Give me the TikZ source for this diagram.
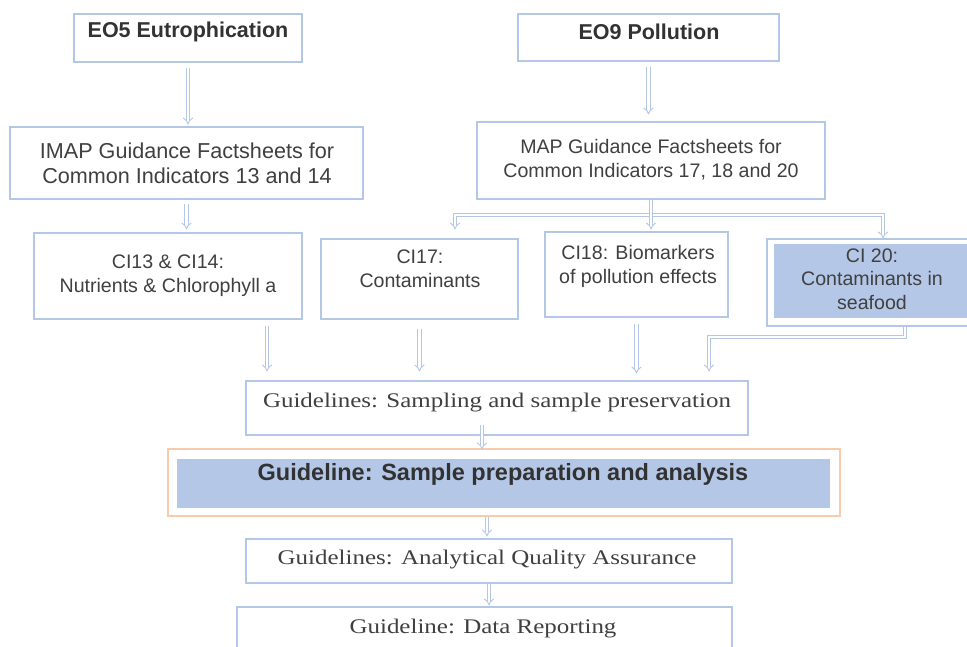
\documentclass[tikz,border=0pt]{standalone}
\usepackage{fontspec}
\setmainfont{Liberation Sans}
\newfontfamily\serifc[FakeStretch=1.2]{Liberation Serif}
\usetikzlibrary{arrows.meta}
\definecolor{boxc}{RGB}{180,199,231}
\definecolor{fillc}{RGB}{180,199,231}
\definecolor{orangec}{RGB}{248,203,173}
\definecolor{txtc}{RGB}{64,64,64}
\definecolor{titc}{RGB}{50,50,50}
\begin{document}
\begin{tikzpicture}[x=1pt,y=-1pt,
  box/.style={draw=boxc, line width=1.1pt, inner sep=0pt},
  fbox/.style={fill=fillc, draw=none, inner sep=0pt},
  obox/.style={draw=orangec, line width=1.1pt, inner sep=0pt},
  ttl/.style={text=titc, font=\fontsize{21.5}{25}\selectfont\bfseries, inner sep=0pt},
  bigt/.style={text=txtc, font=\fontsize{21.6}{25}\selectfont, align=center, inner sep=0pt},
  midt/.style={text=txtc, font=\fontsize{19.6}{24}\selectfont, align=center, inner sep=0pt},
  sert/.style={text=txtc, font=\serifc\fontsize{20.8}{24}\selectfont, inner sep=0pt},
  prept/.style={text=titc, font=\fontsize{23.5}{27}\selectfont\bfseries, inner sep=0pt},
  arr/.style={draw=boxc, line width=0.9pt, double=white, double distance=2.6pt, -{Implies}},
  dbl/.style={draw=boxc, line width=0.9pt, double=white, double distance=2.6pt}
]
\useasboundingbox (0,0) rectangle (967,646);
\clip (0,0) rectangle (967,646);
\fill[white] (0,0) rectangle (967,646);

% boxes
\node[box, minimum width=228pt, minimum height=48pt] (eo5) at (188,38) {};
\node[box, minimum width=261pt, minimum height=47pt] (eo9) at (648.5,37.5) {};
\node[box, minimum width=353pt, minimum height=72pt] (imap) at (186.5,163) {};
\node[box, minimum width=348pt, minimum height=77pt] (map) at (651,160.5) {};
\node[box, minimum width=268pt, minimum height=86pt] (ci13) at (168,276) {};
\node[box, minimum width=197pt, minimum height=80pt] (ci17) at (419.5,279) {};
\node[box, minimum width=183pt, minimum height=85pt] (ci18) at (636.5,274.5) {};
\node[box, minimum width=213pt, minimum height=87pt] (ci20) at (873.5,282.5) {};
\node[fbox, minimum width=206pt, minimum height=74pt] (ci20f) at (877,281) {};
\node[box, minimum width=502pt, minimum height=54pt] (samp) at (497,408) {};
\node[obox, minimum width=672pt, minimum height=67pt] (prepo) at (504,482.5) {};
\node[fbox, minimum width=653pt, minimum height=49pt] (prepf) at (503.5,483.5) {};
\node[box, minimum width=486pt, minimum height=44pt] (aqa) at (489,561) {};
\node[box, minimum width=495pt, minimum height=63pt] (dr) at (484.5,638.5) {};

% texts
\node[ttl] (eo5t) at (188,32) {EO5 Eutrophication};
\node[ttl] (eo9t) at (649,32) {EO9 Pollution};
\node[bigt] (imapt) at (187,163) {IMAP Guidance Factsheets for\\Common Indicators 13 and 14};
\node[midt] (mapt) at (651,160) {MAP Guidance Factsheets for\\Common Indicators 17, 18 and 20};
\node[midt] (ci13t) at (168,276) {CI13 \& CI14:\\Nutrients \& Chlorophyll a};
\node[midt] (ci17t) at (420,269) {CI17:\\Contaminants};
\node[midt] (ci18t) at (638,266) {CI18: Biomarkers\\of pollution effects};
\node[midt, font=\fontsize{19.6}{23.5}\selectfont] (ci20t) at (872,279) {CI 20:\\Contaminants in\\seafood};
\node[sert] (sampt) at (497,403) {Guidelines: Sampling and sample preservation};
\node[prept] (prept) at (503,474) {Guideline: Sample preparation and analysis};
\node[sert] (aqat) at (487,560) {Guidelines: Analytical Quality Assurance};
\node[sert] (drt) at (483,629) {Guideline: Data Reporting};

% helper coordinates
\coordinate (br) at (651,215);
\coordinate (x455) at (455,0);
\coordinate (x883) at (883,0);
\coordinate (x267) at (267,0);
\coordinate (x905) at (905,0);
\coordinate (bend) at (709,337);
\coordinate (x482) at (482,0);
\coordinate (x487) at (487,0);

% connectors
\draw[arr, shorten <=5pt, shorten >=2pt] (eo5.south) -- (eo5.south |- imap.north);
\draw[arr, shorten <=5pt, shorten >=7pt] (eo9.south) -- (eo9.south |- map.north);
\draw[arr, shorten <=4pt, shorten >=3pt] (imap.south) -- (imap.south |- ci13.north);
\draw[arr, shorten >=9pt] (br) -| (x455 |- ci17.north);
\draw[arr, shorten >=0pt] (br) -| (x883 |- ci20.north);
\draw[arr, shorten >=2pt] (map.south) -- (map.south |- ci18.north);
\draw[arr, shorten <=6pt, shorten >=9pt] (ci13.south -| x267) -- (samp.north -| x267);
\draw[arr, shorten <=9pt, shorten >=9pt] (ci17.south) -- (ci17.south |- samp.north);
\draw[arr, shorten <=6pt, shorten >=7pt] (ci18.south) -- (ci18.south |- samp.north);
\draw[arr, shorten >=9pt] (ci20.south -| x905) |- (bend) -- (bend |- samp.north);
\draw[arr, shorten <=-11pt, shorten >=-1pt] (samp.south -| x482) -- (prepo.north -| x482);
\draw[arr, shorten >=2pt] (prepo.south -| x487) -- (aqa.north -| x487);
\draw[arr, shorten >=1pt] (aqa.south) -- (aqa.south |- dr.north);
\end{tikzpicture}
\end{document}
